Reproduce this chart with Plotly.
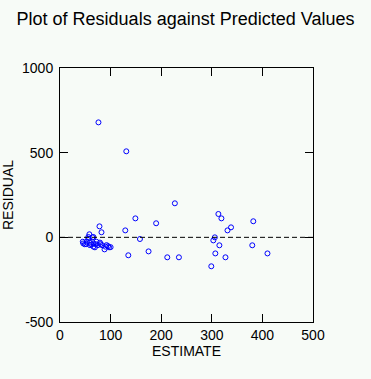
import plotly.graph_objects as go

estimate = [76, 131, 227, 149, 190, 78, 129, 82, 58, 56, 66, 158,
            175, 135, 88, 212, 235,
            313, 319, 382, 338, 331, 306, 303, 315, 380, 307, 327, 410, 299,
            46, 45, 53, 59, 66, 56, 72, 69, 75, 79, 83, 92, 95, 97, 66, 49,
            59, 52, 62, 70, 80, 90, 100, 64]
residual = [679, 508, 201, 112, 83, 65, 41, 30, 18, 2, 2, -10,
            -83, -106, -71, -118, -118,
            138, 112, 95, 59, 41, 0, -18, -47, -47, -95, -118, -95, -171,
            -36, -26, -26, -31, -36, -8, -26, -59, -46, -31, -46, -46, -52, -59, -55, -41,
            -46, -40, -42, -40, -40, -55, -58, 0]

x_ticks = [0, 100, 200, 300, 400, 500]
y_ticks = [-500, 0, 500, 1000]

bg = "#F7FBF7"
font = "Liberation Sans, Arial, sans-serif"

fig = go.Figure()
fig.add_trace(go.Scatter(
    x=estimate, y=residual, mode="markers",
    marker=dict(symbol="circle-open", size=5, color="#0000FF",
                line=dict(width=1, color="#0000FF")),
    showlegend=False, hoverinfo="skip"))

fig.add_shape(type="line", xref="x", yref="y", x0=0, x1=500, y0=0, y1=0,
              line=dict(color="black", width=1, dash="5px,3px"))

axis_common = dict(showgrid=False, zeroline=False, showline=True,
                   linecolor="black", linewidth=1, mirror="ticks",
                   ticks="inside", ticklen=8, tickcolor="black", tickwidth=1,
                   automargin=False,
                   tickfont=dict(family=font, size=14, color="black"))

fig.update_xaxes(range=[0, 500], tickvals=x_ticks,
                 ticktext=[str(v) for v in x_ticks],
                 title=dict(text="ESTIMATE", font=dict(family=font, size=14, color="black"), standoff=4),
                 **axis_common)
fig.update_yaxes(range=[-500, 1000], tickvals=y_ticks,
                 ticktext=[str(v) for v in y_ticks],
                 ticklabelstandoff=3,
                 title=dict(text="RESIDUAL", font=dict(family=font, size=14, color="black"), standoff=8),
                 **axis_common)

fig.update_layout(
    width=371, height=379,
    margin=dict(l=60, r=58, t=68, b=57, pad=0),
    paper_bgcolor=bg, plot_bgcolor=bg,
    title=dict(text="Plot of Residuals against Predicted Values",
               font=dict(family=font, size=18, color="black"),
               x=0.5, xanchor="center", y=1 - 19 / 379, yanchor="middle",
               yref="container"),
)

fig.write_html("out.html", config={"displayModeBar": False},
               post_script="document.body.style.margin='0';document.body.style.background='#F7FBF7';")
